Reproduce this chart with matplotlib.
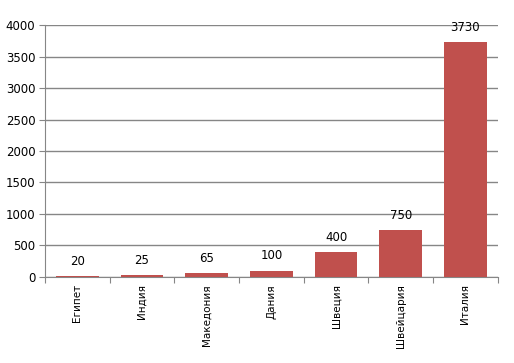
import matplotlib
matplotlib.use("Agg")
import matplotlib.pyplot as plt
import numpy as np

countries = ['Египет', 'Индия', 'Македония', 'Дания', 'Швеция', 'Швейцария', 'Италия']
values = [20, 25, 65, 100, 400, 750, 3730]
yticks = [0, 500, 1000, 1500, 2000, 2500, 3000, 3500, 4000]

fig = plt.figure(figsize=(5.14, 3.63), dpi=100)
ax = fig.add_axes([0.0875, 0.237, 0.881, 0.694])

x = np.arange(len(countries))
ax.bar(x, values, width=0.66, color='#C0504D', zorder=3)

for xi, v in zip(x, values):
    ax.text(xi, v + 130, str(v), ha='center', va='bottom', fontsize=8.5, color='black')

ax.set_xlim(-0.5, len(countries) - 0.5)
ax.set_ylim(0, 4000)
ax.set_yticks(yticks)
ax.set_yticklabels([str(t) for t in yticks], fontsize=8.5)
ax.yaxis.grid(True, color='#868686', linewidth=1, zorder=0)

# category labels between boundary ticks
ax.set_xticks(np.arange(-0.5, len(countries)), minor=False)
ax.set_xticklabels([])
ax.set_xticks(x, minor=True)
ax.set_xticklabels(countries, minor=True, rotation=90, fontsize=7.5)
ax.tick_params(axis='x', which='minor', length=0, pad=5)
ax.tick_params(axis='x', which='major', length=4, color='#868686', direction='out')
ax.tick_params(axis='y', length=4, color='#868686', direction='out', pad=3)

for side in ['top', 'right']:
    ax.spines[side].set_visible(False)
ax.spines['left'].set_color('#868686')
ax.spines['bottom'].set_color('#868686')

fig.savefig('out.png', dpi=100)
